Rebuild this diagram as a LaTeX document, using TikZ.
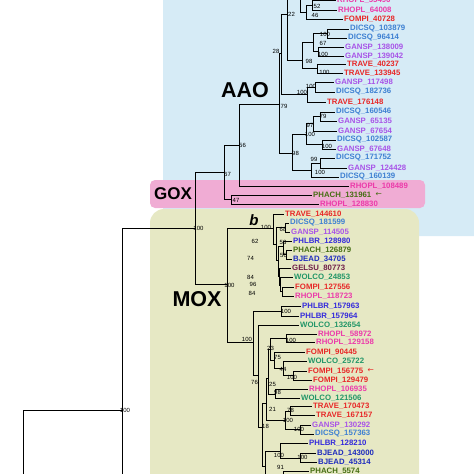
\documentclass[tikz,border=0pt]{standalone}
\usepackage{fontspec}
\setmainfont{Liberation Sans}
\newfontfamily\arrowfont{DejaVu Sans}
\usetikzlibrary{positioning}

\definecolor{crhopl}{RGB}{236,58,170}
\definecolor{cfompi}{RGB}{232,40,40}
\definecolor{ctrave}{RGB}{232,40,40}
\definecolor{cdicsq}{RGB}{62,128,210}
\definecolor{cgansp}{RGB}{168,84,232}
\definecolor{cphach}{RGB}{70,110,20}
\definecolor{cphlbr}{RGB}{52,42,220}
\definecolor{cbjead}{RGB}{30,44,190}
\definecolor{cgelsu}{RGB}{110,30,72}
\definecolor{cwolco}{RGB}{34,150,104}
\definecolor{aaobg}{RGB}{214,235,246}
\definecolor{goxbg}{RGB}{240,172,212}
\definecolor{moxbg}{RGB}{230,232,196}

\begin{document}
\begin{tikzpicture}[x=1pt, y=-1pt,
    br/.style={line width=1pt, black},
    leaf/.style={anchor=west, inner sep=1pt, font=\bfseries\fontsize{7.8}{8}\selectfont},
    bs/.style={inner sep=0pt, font=\fontsize{6}{6}\selectfont},
    clade/.style={inner sep=0pt, font=\bfseries\fontsize{21.5}{22}\selectfont}]
    \useasboundingbox (0,0) rectangle (474,474);
    \clip (0,0) rectangle (474,474);

    % clade boxes
    \fill[aaobg, rounded corners=14pt] (163,-30) rectangle (500,236);
    \fill[moxbg, rounded corners=14pt] (150,209) rectangle (419,500);
    \fill[goxbg, rounded corners=5pt] (150,180) rectangle (425,208);

    \node[clade] (aao) at (245,90.5) {AAO};
    \node[clade] (mox) at (197,299) {MOX};
    \node[clade, font=\bfseries\fontsize{17}{18}\selectfont] (gox) at (173,194) {GOX};
    \node[inner sep=0pt, font=\bfseries\itshape\fontsize{15}{15}\selectfont] (bmark) at (254,220) {b};

    % sequences
    \foreach \n/\x/\y/\c/\t in {
      1/336/0.5/crhopl/RHOPL\_55496, 2/337/10/crhopl/RHOPL\_64008,
      3/343/19.5/cfompi/FOMPI\_40728, 4/349/29/cdicsq/DICSQ\_103879,
      5/347/38/cdicsq/DICSQ\_96414, 6/344/47/cgansp/GANSP\_138009,
      7/344/56/cgansp/GANSP\_139042, 8/346/64/ctrave/TRAVE\_40237,
      9/343/73/ctrave/TRAVE\_133945, 10/334/82/cgansp/GANSP\_117498,
      11/335/92/cdicsq/DICSQ\_182736, 12/326/102.5/ctrave/TRAVE\_176148,
      13/335/112/cdicsq/DICSQ\_160546, 14/337/121/cgansp/GANSP\_65135,
      15/337/131/cgansp/GANSP\_67654, 16/336/140/cdicsq/DICSQ\_102587,
      17/336/149/cgansp/GANSP\_67648, 18/335/158/cdicsq/DICSQ\_171752,
      19/347/168/cgansp/GANSP\_124428, 20/339/177/cdicsq/DICSQ\_160139,
      21/349/186/crhopl/RHOPL\_108489, 22/312/195/cphach/PHACH\_131961,
      23/319/204.5/crhopl/RHOPL\_128830, 24/284/214/ctrave/TRAVE\_144610,
      25/289/223/cdicsq/DICSQ\_181599, 26/290/232/cgansp/GANSP\_114505,
      27/292/241/cphlbr/PHLBR\_128980, 28/292/250/cphach/PHACH\_126879,
      29/292/259/cbjead/BJEAD\_34705, 30/291/268/cgelsu/GELSU\_80773,
      31/293/277.5/cwolco/WOLCO\_24853, 32/294/287/cfompi/FOMPI\_127556,
      33/294/296/crhopl/RHOPL\_118723, 34/301/306.5/cphlbr/PHLBR\_157963,
      35/299/316/cphlbr/PHLBR\_157964, 36/299/325/cwolco/WOLCO\_132654,
      37/317/334/crhopl/RHOPL\_58972, 38/315/342.5/crhopl/RHOPL\_129158,
      39/305/352/cfompi/FOMPI\_90445, 40/307/361.5/cwolco/WOLCO\_25722,
      41/307/371/cfompi/FOMPI\_156775, 42/312/380/cfompi/FOMPI\_129479,
      43/308/389.5/crhopl/RHOPL\_106935, 44/300/398.5/cwolco/WOLCO\_121506,
      45/312/406.5/ctrave/TRAVE\_170473, 46/315/415.5/ctrave/TRAVE\_167157,
      47/311/425/cgansp/GANSP\_130292, 48/314/434/cdicsq/DICSQ\_157363,
      49/308/443.5/cphlbr/PHLBR\_128210, 50/316/453/cbjead/BJEAD\_143000,
      51/317/462.5/cbjead/BJEAD\_45314, 52/309/471.5/cphach/PHACH\_5574}
      \node[leaf, text=\c] (l\n) at (\x,\y) {\t};

    \node[leaf, text=cphach, right=2pt of l22, font=\arrowfont\fontsize{7.5}{8}\selectfont] (a22) {←};
    \node[leaf, text=cfompi, right=2pt of l41, font=\arrowfont\fontsize{7.5}{8}\selectfont] (a41) {←};

    % internal nodes
    \foreach \n/\x/\y in {
      r1/23/560, r2/122/410, rx/200/592, a/195/228, b/224/172, c/239.5/145,
      g47/231/199.5, d/279/104, e/281/53, n22/287/14, top/300/-29, topx/330/-70,
      n46/306/12, n52/312/5, n98/302/60, n67/313/42.5, p1/327/33.5, p2/318/51.5,
      t100/317/68.5, q2/307/94, q1/315/87, n98c/292/153, n100e/306/134,
      n97/313/123.5, n72/320/116.5, dg100/322/144.5, n100f/311/170, n99/320/163,
      m/227/284, mb/273/228, mb2/276/244, n68/285/227.5, mb3/278/260,
      n53/283/246, n50/286/254.5, mb4/279/276, mb5/280/285, n84/282/291.5,
      mc/253/342, pp/281/311, md/258/375, mf/262/427, n21/266/403, n25/268/378,
      n23/270/349, rp/286/338, n75/274/360, n44/283/368, f100/293/375.5,
      n98b/275/394, n100c/285/420, t78/290/411, gd100/300/429.5, mh/265/466,
      n100d/280/451, bj100/300/458, n91/283/482, n91x/300/492}
      \coordinate (\n) at (\x,\y);

    % branches
    \foreach \p/\q in {r1/r2, r2/rx, r2/a, a/b, a/m, b/c, b/g47,
      c/d, c/l21.west, g47/l22.west, g47/l23.west, d/e, d/n98c, e/n22, e/q2,
      n22/top, n22/n98, top/topx, top/n46, n46/n52, n46/l3.west,
      n52/l1.west, n52/l2.west, n98/n67, n98/t100, n67/p1, n67/p2,
      p1/l4.west, p1/l5.west, p2/l6.west, p2/l7.west, t100/l8.west, t100/l9.west,
      q2/q1, q2/l12.west, q1/l10.west, q1/l11.west, n98c/n100e, n98c/n100f,
      n100e/n97, n100e/dg100, n97/n72, n97/l15.west, n72/l13.west, n72/l14.west,
      dg100/l16.west, dg100/l17.west, n100f/n99, n100f/l20.west,
      n99/l18.west, n99/l19.west,
      m/mb, m/mc, mb/l24.west, mb/mb2, mb2/n68, mb2/mb3, n68/l25.west,
      n68/l26.west, mb3/n53, mb3/mb4, n53/l27.west, n53/n50, n50/l28.west,
      n50/l29.west, mb4/l30.west, mb4/mb5, mb5/l31.west, mb5/n84,
      n84/l32.west, n84/l33.west,
      mc/pp, mc/md, pp/l34.west, pp/l35.west, md/l36.west, md/mf, mf/n21, mf/mh,
      n21/n25, n21/n100c, n25/n23, n25/n98b, n23/rp, n23/n75, rp/l37.west,
      rp/l38.west, n75/l39.west, n75/n44, n44/l40.west, n44/f100,
      f100/l41.west, f100/l42.west, n98b/l43.west, n98b/l44.west,
      n100c/t78, n100c/gd100, t78/l45.west, t78/l46.west, gd100/l47.west,
      gd100/l48.west, mh/n100d, mh/n91, n100d/l49.west, n100d/bj100,
      bj100/l50.west, bj100/l51.west, n91/l52.west, n91/n91x}
      \draw[br] (\p) |- (\q);

    % bootstrap values
    \foreach \x/\y/\t [count=\k] in {
      317/6/52, 315/15.5/46, 291.5/14/22, 276/51/28, 325/34/100, 323/43.5/67,
      323/54/100, 309/61/98, 324.5/72.5/100, 311/86/100, 302/92/100,
      284/106/79, 323/116.5/79, 310/125/97, 310/134.5/100, 327/146/100,
      295.5/153/98, 314/159/99, 320/172/100, 242.5/145/56, 227.5/174/67,
      236/200.5/47, 198.5/228/100, 125/410/100, 229.5/285/100, 266/227/100,
      283/229/68, 255/241.5/62, 283/242/53, 283.5/255/50, 250.5/258/74,
      250.5/277/84, 253/284/96, 252/293/84, 286/311.5/100, 247/339.5/100,
      291/340.5/100, 270.5/348.5/23, 277.5/357.5/75, 283/369/44, 292/377/100,
      254.5/382/76, 272.5/384.5/25, 277.5/392/98, 272.5/409/21, 290.5/410.5/78,
      288/420.5/100, 299/429.5/100, 265.5/426.5/18, 279/455/100,
      302.5/457.5/100, 280.5/467.5/91}
      \node[bs] (s\k) at (\x,\y) {\t};
\end{tikzpicture}
\end{document}
